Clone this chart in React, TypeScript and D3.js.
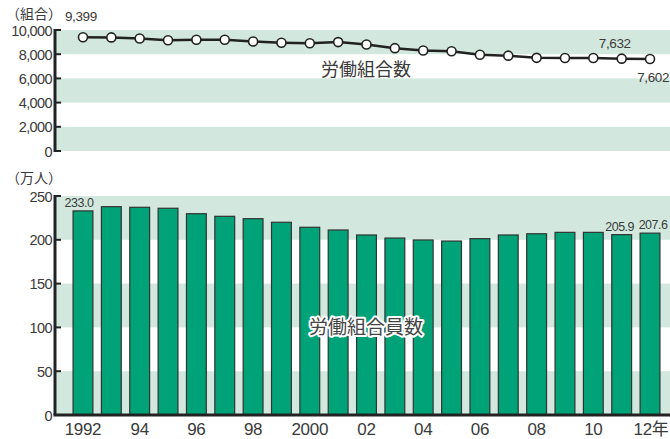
import React, { useEffect, useRef } from 'react';
import * as d3 from 'd3';

// 年
const years = d3.range(1992, 2013);
// 労働組合数（組合）
const unionCounts = [
  9399, 9390, 9300, 9150, 9200, 9200, 9050, 8950, 8900, 9000, 8800,
  8500, 8300, 8250, 7950, 7880, 7700, 7680, 7680, 7632, 7602,
];
// 労働組合員数（万人）
const memberCounts = [
  233.0, 237.8, 237.1, 236.0, 229.8, 226.8, 224.1, 220.0, 214.3, 211.2, 205.5,
  202.0, 199.8, 198.6, 201.3, 205.5, 206.9, 208.5, 208.5, 205.9, 207.6,
];
const topTicks = [0, 2000, 4000, 6000, 8000, 10000];
const bottomTicks = [0, 50, 100, 150, 200, 250];
const xLabels: Record<number, string> = {
  1992: '1992', 1994: '94', 1996: '96', 1998: '98', 2000: '2000',
  2002: '02', 2004: '04', 2006: '06', 2008: '08', 2010: '10', 2012: '12年',
};

const App: React.FC = () => {
  const svgRef = useRef<SVGSVGElement>(null);

  useEffect(() => {
    const W = 670;
    const H = 439;
    const axisX = 55;
    const font = "'Liberation Sans', 'Noto Sans CJK JP', sans-serif";
    const jpFont = "'Noto Sans CJK JP', sans-serif";
    const band = '#d2e8de';
    const ink = '#3a3a3a';

    const svg = d3.select(svgRef.current);
    svg.selectAll('*').remove();
    svg.attr('width', W).attr('height', H).style('background', '#fff');

    const x = d3.scaleBand<number>()
      .domain(years)
      .range([68.8, 664.2])
      .paddingInner(0.3)
      .paddingOuter(0.15);
    const cx = (yr: number) => (x(yr) || 0) + x.bandwidth() / 2;

    // ---- top chart: 労働組合数
    const yTop = d3.scaleLinear().domain([0, 10000]).range([151, 30]);

    svg.append('g')
      .selectAll('rect')
      .data([0, 4000, 8000])
      .enter()
      .append('rect')
      .attr('x', axisX)
      .attr('y', d => yTop(d + 2000))
      .attr('width', W - axisX)
      .attr('height', d => yTop(d) - yTop(d + 2000))
      .attr('fill', band);

    const topAxis = svg.append('g');
    topAxis.append('line')
      .attr('x1', axisX).attr('x2', axisX)
      .attr('y1', yTop(10000) - 1).attr('y2', yTop(0) + 1)
      .attr('stroke', '#222').attr('stroke-width', 3);
    topAxis.selectAll('.tick')
      .data(topTicks)
      .enter()
      .append('line')
      .attr('x1', axisX).attr('x2', axisX + 6)
      .attr('y1', d => yTop(d)).attr('y2', d => yTop(d))
      .attr('stroke', '#222').attr('stroke-width', 2);
    topAxis.selectAll('.lbl')
      .data(topTicks)
      .enter()
      .append('text')
      .attr('x', axisX - 3)
      .attr('y', d => yTop(d) + 5.5)
      .attr('text-anchor', 'end')
      .style('font-family', font)
      .style('font-size', '14.5px')
      .style('letter-spacing', '-0.6px')
      .attr('fill', ink)
      .text(d => d3.format(',')(d));

    const line = d3.line<number>()
      .x((_, i) => cx(years[i]))
      .y(d => yTop(d));
    svg.append('path')
      .datum(unionCounts)
      .attr('d', line)
      .attr('fill', 'none')
      .attr('stroke', '#222')
      .attr('stroke-width', 2.5);
    svg.selectAll('.dot')
      .data(unionCounts)
      .enter()
      .append('circle')
      .attr('cx', (_, i) => cx(years[i]))
      .attr('cy', d => yTop(d))
      .attr('r', 4.5)
      .attr('fill', '#fff')
      .attr('stroke', '#222')
      .attr('stroke-width', 1.6);

    svg.append('text')
      .attr('x', 6).attr('y', 19)
      .style('font-family', jpFont).style('font-size', '14px')
      .attr('fill', ink)
      .text('（組合）');
    svg.append('text')
      .attr('x', cx(1992) - 18).attr('y', 21)
      .style('font-family', font).style('font-size', '13.5px')
      .style('letter-spacing', '-0.4px')
      .attr('fill', ink)
      .text(d3.format(',')(unionCounts[0]));
    svg.append('text')
      .attr('x', cx(2011) + 9).attr('y', yTop(unionCounts[19]) - 11)
      .attr('text-anchor', 'end')
      .style('font-family', font).style('font-size', '13.5px')
      .style('letter-spacing', '-0.4px')
      .attr('fill', ink)
      .text(d3.format(',')(unionCounts[19]));
    svg.append('text')
      .attr('x', W - 1).attr('y', yTop(unionCounts[20]) + 23)
      .attr('text-anchor', 'end')
      .style('font-family', font).style('font-size', '13.5px')
      .style('letter-spacing', '-0.4px')
      .attr('fill', ink)
      .text(d3.format(',')(unionCounts[20]));
    svg.append('text')
      .attr('x', 366).attr('y', 76)
      .attr('text-anchor', 'middle')
      .style('font-family', jpFont).style('font-size', '18px')
      .attr('fill', ink)
      .text('労働組合数');

    // ---- bottom chart: 労働組合員数
    const yBot = d3.scaleLinear().domain([0, 250]).range([415, 196]);

    svg.append('g')
      .selectAll('rect')
      .data([0, 100, 200])
      .enter()
      .append('rect')
      .attr('x', axisX)
      .attr('y', d => yBot(d + 50))
      .attr('width', W - axisX)
      .attr('height', d => yBot(d) - yBot(d + 50))
      .attr('fill', band);

    svg.append('g')
      .selectAll('rect')
      .data(memberCounts)
      .enter()
      .append('rect')
      .attr('x', (_, i) => x(years[i]) || 0)
      .attr('y', d => yBot(d))
      .attr('width', x.bandwidth())
      .attr('height', d => yBot(0) - yBot(d))
      .attr('fill', '#00a277')
      .attr('stroke', '#333')
      .attr('stroke-width', 1.2);

    const botAxis = svg.append('g');
    botAxis.append('line')
      .attr('x1', axisX).attr('x2', axisX)
      .attr('y1', yBot(250) - 1).attr('y2', yBot(0))
      .attr('stroke', '#222').attr('stroke-width', 3);
    botAxis.append('line')
      .attr('x1', axisX - 1.5).attr('x2', W)
      .attr('y1', yBot(0)).attr('y2', yBot(0))
      .attr('stroke', '#222').attr('stroke-width', 3);
    botAxis.selectAll('.tick')
      .data(bottomTicks.filter(d => d > 0))
      .enter()
      .append('line')
      .attr('x1', axisX).attr('x2', axisX + 6)
      .attr('y1', d => yBot(d)).attr('y2', d => yBot(d))
      .attr('stroke', '#222').attr('stroke-width', 2);
    botAxis.selectAll('.lbl')
      .data(bottomTicks)
      .enter()
      .append('text')
      .attr('x', axisX - 3)
      .attr('y', d => yBot(d) + 5.5)
      .attr('text-anchor', 'end')
      .style('font-family', font)
      .style('font-size', '14.5px')
      .style('letter-spacing', '-0.6px')
      .attr('fill', ink)
      .text(d => String(d));

    svg.append('g')
      .selectAll('text')
      .data(years.filter(yr => xLabels[yr]))
      .enter()
      .append('text')
      .attr('x', d => cx(d) + (d === 2012 ? 1 : 0))
      .attr('y', 435)
      .attr('text-anchor', 'middle')
      .style('font-family', font)
      .style('font-size', '17px')
      .style('letter-spacing', '-0.3px')
      .attr('fill', ink)
      .text(d => xLabels[d]);

    svg.append('text')
      .attr('x', 6).attr('y', 183)
      .style('font-family', jpFont).style('font-size', '14px')
      .attr('fill', ink)
      .text('（万人）');

    const barLabel = (i: number, dx: number) =>
      svg.append('text')
        .attr('x', cx(years[i]) + dx)
        .attr('y', yBot(memberCounts[i]) - 4)
        .attr('text-anchor', 'middle')
        .style('font-family', font)
        .style('font-size', '12.5px')
        .style('letter-spacing', '-0.5px')
        .attr('fill', ink)
        .text(d3.format('.1f')(memberCounts[i]));
    barLabel(0, -4);
    barLabel(19, -2);
    barLabel(20, 3);

    svg.append('text')
      .attr('x', 366).attr('y', 334)
      .attr('text-anchor', 'middle')
      .style('font-family', jpFont).style('font-size', '19px')
      .style('paint-order', 'stroke')
      .attr('fill', '#444')
      .attr('stroke', '#fff')
      .attr('stroke-width', 4)
      .attr('stroke-linejoin', 'round')
      .text('労働組合員数');
  }, []);

  return (
    <div style={{ position: 'absolute', left: 0, top: 0 }}>
      <svg ref={svgRef}></svg>
    </div>
  );
};

export default App;
